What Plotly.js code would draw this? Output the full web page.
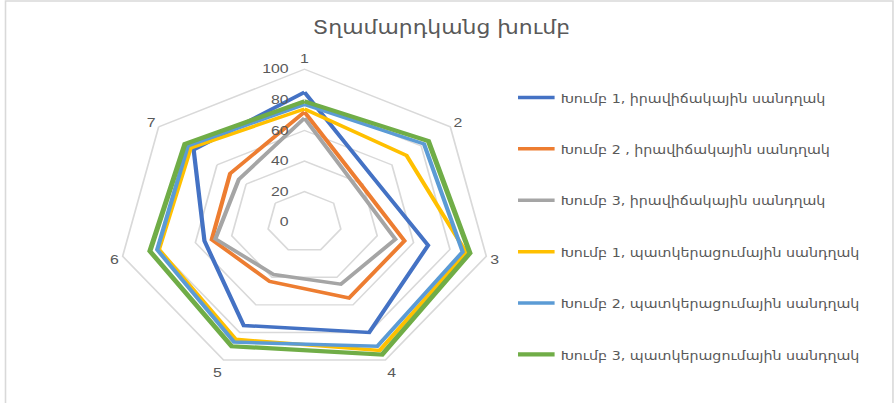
<!DOCTYPE html>
<html>
<head>
<meta charset="utf-8">
<script src="https://cdn.plot.ly/plotly-3.0.1.min.js"></script>
<style>
  html, body { margin: 0; padding: 0; background: #ffffff; overflow: hidden; }
  #wrap { width: 895px; height: 403px; overflow: hidden; }
  #chart { width: 734px; height: 403px; transform: scaleX(1.2193); transform-origin: 0 0; }
</style>
</head>
<body>
<div id="wrap"><div id="chart"></div></div>
<script>
// ---- data ----
const categories = ["1", "2", "3", "4", "5", "6", "7"];
const seriesNames = [
  "Խումբ 1, իրավիճակային սանդղակ",
  "Խումբ 2 , իրավիճակային սանդղակ",
  "Խումբ 3, իրավիճակային սանդղակ",
  "Խումբ 1, պատկերացումային սանդղակ",
  "Խումբ 2, պատկերացումային սանդղակ",
  "Խումբ 3, պատկերացումային սանդղակ"
];
const group1Situational = [85, 47, 68, 80, 75, 55, 76];
const group2Situational = [72, 39, 55, 55, 43, 51, 51];
const group3Situational = [68, 36, 50, 45, 38, 49, 45];
const group1Imagined    = [74, 70, 89, 93, 85, 80, 78];
const group2Imagined    = [77, 82, 87, 90, 87, 81, 80];
const group3Imagined    = [79, 85, 91, 96, 90, 85, 82];
const radialTicks = [0, 20, 40, 60, 80, 100];
const titleText = "Տղամարդկանց խումբ";

const seriesValues = [group1Situational, group2Situational, group3Situational,
                      group1Imagined, group2Imagined, group3Imagined];
const colors = ["#4472C4", "#ED7D31", "#A5A5A5", "#FFC000", "#5B9BD5", "#70AD47"];
const widths = [3.5, 3.5, 3.5, 3.5, 3.5, 4.2];

const FONT = '"DejaVu Sans Condensed", "DejaVu Sans", sans-serif';
const NUMFONT = '"Liberation Sans", "DejaVu Sans", sans-serif';
const TXT = "#595959";

const traces = seriesValues.map((vals, i) => ({
  type: "scatterpolar",
  mode: "lines",
  name: seriesNames[i],
  legendgroup: "g" + i,
  r: vals.concat([vals[0]]),
  theta: categories.concat([categories[0]]),
  line: { color: colors[i], width: widths[i], shape: "linear" },
  hoverinfo: "skip"
}));

const layout = {
  width: 734,
  height: 403,
  margin: { l: 0, r: 0, t: 0, b: 0, autoexpand: false },
  paper_bgcolor: "#ffffff",
  showlegend: true,
  title: {
    text: titleText,
    x: 0.4933, xanchor: "center",
    y: 1 - 27 / 403, yanchor: "middle",
    font: { family: FONT, size: 20, color: TXT }
  },
  polar: {
    domain: { x: [0.1318, 0.5486], y: [0.069, 0.8283] },
    bgcolor: "#ffffff",
    gridshape: "linear",
    angularaxis: {
      type: "category",
      categoryorder: "array",
      categoryarray: categories,
      direction: "clockwise",
      rotation: 90,
      showgrid: false,
      showline: true,
      linecolor: "#D9D9D9",
      linewidth: 1.4,
      ticks: "",
      tickfont: { family: NUMFONT, size: 13, color: TXT }
    },
    radialaxis: {
      range: [0, 100],
      tickvals: radialTicks,
      ticktext: radialTicks.map(String),
      angle: 90,
      tickangle: 90,
      side: "counterclockwise",
      showline: false,
      ticks: "outside",
      ticklen: 8,
      tickcolor: "rgba(0,0,0,0)",
      showgrid: true,
      gridcolor: "#D9D9D9",
      gridwidth: 1.4,
      tickfont: { family: NUMFONT, size: 13, color: TXT }
    }
  },
  legend: {
    x: 0.572, xanchor: "left",
    y: 1 - 82.5 / 403, yanchor: "top",
    bgcolor: "rgba(0,0,0,0)",
    font: { family: FONT, size: 13, color: TXT },
    tracegroupgap: 31.5,
    itemwidth: 30
  },
  shapes: [{
    type: "rect", xref: "paper", yref: "paper",
    x0: 5.5 / 895, x1: 893 / 895, y0: -0.05, y1: 1 - 1 / 403,
    line: { color: "#D9D9D9", width: 1.3 },
    fillcolor: "rgba(0,0,0,0)"
  }]
};

Plotly.newPlot("chart", traces, layout, { displayModeBar: false, staticPlot: true });
</script>
</body>
</html>
